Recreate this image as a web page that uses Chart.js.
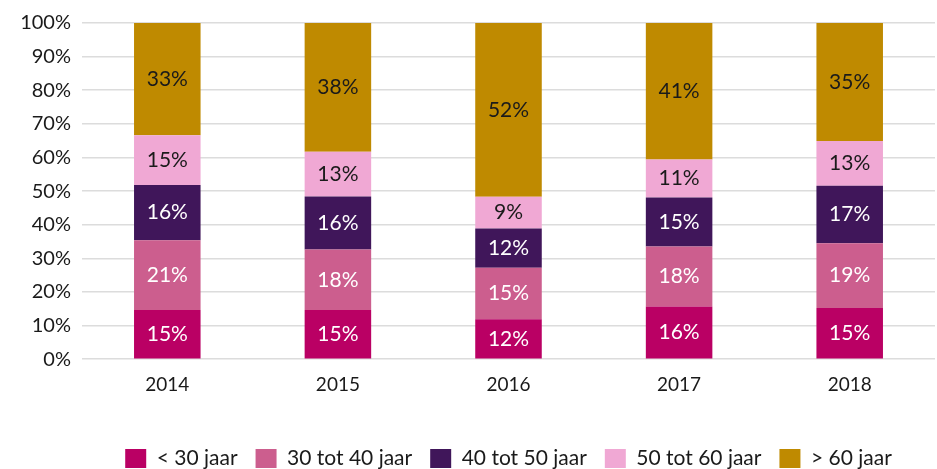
<!DOCTYPE html>
<html>
<head>
<meta charset="utf-8">
<script src="https://cdn.jsdelivr.net/npm/chart.js@4"></script>
<style>
  body { margin: 0; background: #fff; }
  #wrap { width: 937px; height: 469px; }
</style>
</head>
<body>
<div id="wrap"><canvas id="leeftijdChart"></canvas></div>
<script>
const years = ["2014", "2015", "2016", "2017", "2018"];
const groupNames = ["< 30 jaar", "30 tot 40 jaar", "40 tot 50 jaar", "50 tot 60 jaar", "> 60 jaar"];

// share per age group, percent of total
const under30 = [14.6, 14.6, 11.9, 15.7, 15.2];
const from30to40 = [20.8, 18.0, 15.3, 17.8, 19.3];
const from40to50 = [16.4, 15.8, 11.7, 14.6, 17.1];
const from50to60 = [14.8, 13.3, 9.4, 11.3, 13.3];
const over60 = [33.4, 38.3, 51.7, 40.6, 35.1];

const yTicks = [0, 10, 20, 30, 40, 50, 60, 70, 80, 90, 100];

const colors = ["#ba0064", "#cc5e8e", "#40165a", "#f0a8d4", "#bf8a00"];
const labelColors = ["#ffffff", "#ffffff", "#ffffff", "#1a1a1a", "#1a1a1a"];
const FONT = "Lato, 'Open Sans', sans-serif";

// percentages written in the middle of each segment
const segmentLabels = {
  id: "segmentLabels",
  afterDatasetsDraw(chart) {
    const ctx = chart.ctx;
    ctx.save();
    ctx.font = "21px " + FONT;
    ctx.textAlign = "center";
    ctx.textBaseline = "middle";
    chart.data.datasets.forEach(function (ds, i) {
      const meta = chart.getDatasetMeta(i);
      meta.data.forEach(function (bar, j) {
        const p = bar.getProps(["x", "y", "base"], true);
        ctx.fillStyle = labelColors[i];
        ctx.fillText(Math.round(ds.data[j]) + "%", p.x, (p.y + p.base) / 2);
      });
    });
    ctx.restore();
  },
};

const series = [under30, from30to40, from40to50, from50to60, over60];

new Chart(document.getElementById("leeftijdChart"), {
  type: "bar",
  data: {
    labels: years,
    datasets: series.map(function (values, i) {
      return {
        label: groupNames[i],
        data: values,
        backgroundColor: colors[i],
        borderWidth: 0,
        barPercentage: 0.39,
        categoryPercentage: 1,
      };
    }),
  },
  options: {
    responsive: true,
    maintainAspectRatio: false,
    animation: false,
    // negative bottom padding pushes the legend down to the canvas edge
    layout: { padding: { top: 11, right: 2, left: 0, bottom: -10 } },
    scales: {
      x: {
        stacked: true,
        grid: { display: false, drawTicks: false },
        border: { display: false },
        ticks: { color: "#1a1a1a", font: { family: FONT, size: 19 }, padding: 14 },
        afterFit: function (scale) { scale.height += 20; },
      },
      y: {
        stacked: true,
        min: 0,
        max: 100,
        afterBuildTicks: function (scale) {
          scale.ticks = yTicks.map(function (v) { return { value: v }; });
        },
        afterFit: function (scale) { scale.width = 82; },
        grid: { color: "#dcdcdc", lineWidth: 1.5, drawTicks: false },
        border: { display: false },
        ticks: {
          color: "#1a1a1a",
          font: { family: FONT, size: 20 },
          padding: 11,
          callback: function (v) { return v + "%"; },
        },
      },
    },
    plugins: {
      legend: {
        position: "bottom",
        fullSize: false,
        labels: {
          color: "#1a1a1a",
          font: { family: FONT, size: 21 },
          boxWidth: 21,
          boxHeight: 19,
          padding: 18,
        },
      },
      tooltip: { enabled: false },
    },
  },
  plugins: [segmentLabels],
});
</script>
</body>
</html>
